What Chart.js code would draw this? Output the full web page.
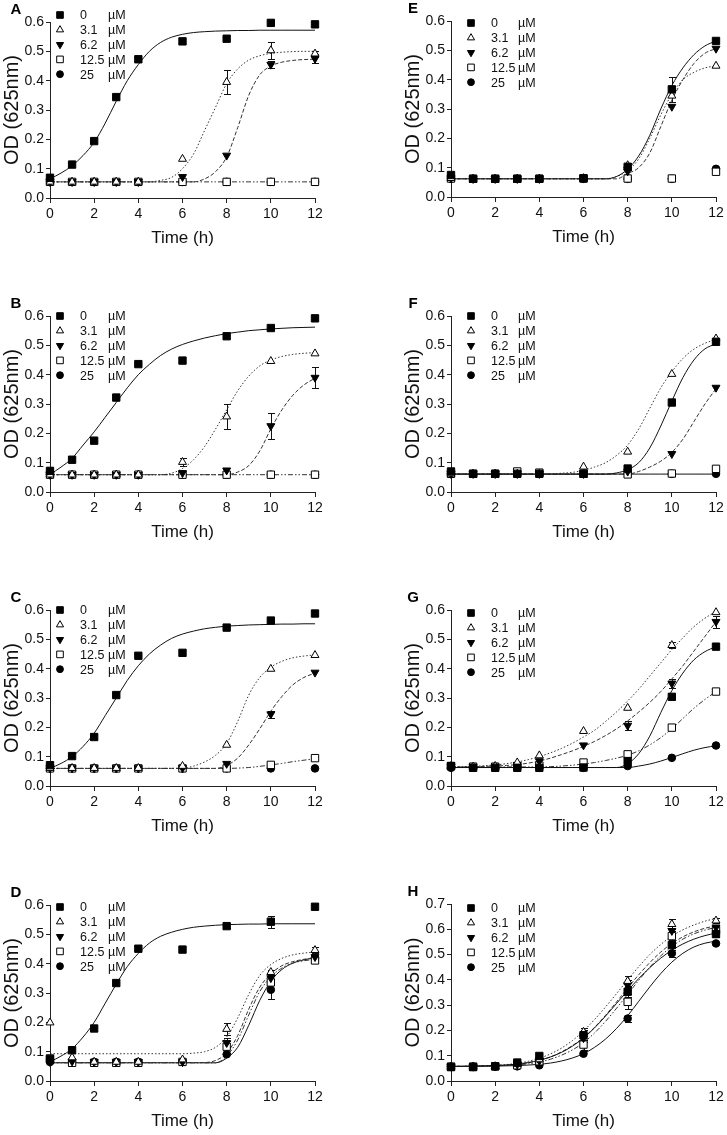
<!DOCTYPE html>
<html>
<head>
<meta charset="utf-8">
<script src="https://cdn.jsdelivr.net/npm/chart.js@4.4.1/dist/chart.umd.min.js"></script>
<style>
  html, body { margin: 0; padding: 0; background: #fff; }
  #fig { position: relative; width: 727px; height: 1135px; overflow: hidden; }
  #fig canvas { position: absolute; }
</style>
</head>
<body>
<div id="fig"></div>
<script>
// doses shown in every legend, sampling times (h)
const DOSES = ['0', '3.1', '6.2', '12.5', '25'];
const TIME = [0, 1, 2, 3, 4, 6, 8, 10, 12];
// time grid the fitted curves were read on
const FIT_TIME = [0, 0.5, 1, 1.5, 2, 2.5, 3, 3.5, 4, 4.5, 5, 5.5, 6, 6.5, 7, 7.5, 8, 8.5, 9, 9.5, 10, 10.5, 11, 11.5, 12];

// ---- panel A ----
const OD_A = [
    [0.069, 0.114, 0.194, 0.344, 0.473, 0.534, 0.543, 0.597, 0.592],
    [0.055, 0.055, 0.055, 0.055, 0.055, 0.133, 0.395, 0.503, 0.492],
    [0.055, 0.055, 0.055, 0.055, 0.055, 0.072, 0.145, 0.455, 0.475],
    [0.055, 0.055, 0.055, 0.055, 0.055, 0.055, 0.055, 0.055, 0.055],
    [0.055, 0.055, 0.055, 0.055, 0.055, 0.055, 0.055, 0.055, 0.055]
];
const SD_A = [
    [0, 0, 0, 0, 0.01, 0, 0, 0, 0],
    [0, 0, 0, 0, 0, 0, 0.04, 0.03, 0.01],
    [0, 0, 0, 0, 0, 0, 0, 0.012, 0.015],
    null, null
];
const FIT_A = [
    [0.065, 0.085, 0.11, 0.145, 0.19, 0.255, 0.33, 0.40, 0.455, 0.50, 0.53, 0.548, 0.558, 0.564, 0.567, 0.569, 0.57, 0.571, 0.571, 0.572, 0.572, 0.572, 0.572, 0.572, 0.572],
    [0.055, 0.055, 0.055, 0.055, 0.055, 0.055, 0.055, 0.055, 0.055, 0.055, 0.06, 0.07, 0.10, 0.15, 0.23, 0.31, 0.39, 0.44, 0.47, 0.485, 0.493, 0.497, 0.499, 0.5, 0.5],
    [0.055, 0.055, 0.055, 0.055, 0.055, 0.055, 0.055, 0.055, 0.055, 0.055, 0.055, 0.055, 0.055, 0.055, 0.065, 0.09, 0.14, 0.24, 0.35, 0.42, 0.45, 0.463, 0.469, 0.472, 0.473],
    [0.055, 0.055, 0.055, 0.055, 0.055, 0.055, 0.055, 0.055, 0.055, 0.055, 0.055, 0.055, 0.055, 0.055, 0.055, 0.055, 0.055, 0.055, 0.055, 0.055, 0.055, 0.055, 0.055, 0.055, 0.055],
    null
];

// ---- panel B ----
const OD_B = [
    [0.072, 0.11, 0.175, 0.322, 0.436, 0.448, 0.531, 0.559, 0.592],
    [0.059, 0.059, 0.059, 0.059, 0.059, 0.102, 0.257, 0.446, 0.472],
    [0.059, 0.059, 0.059, 0.059, 0.059, 0.065, 0.074, 0.225, 0.39],
    [0.059, 0.059, 0.059, 0.059, 0.059, 0.059, 0.059, 0.059, 0.059],
    [0.059, 0.059, 0.059, 0.059, 0.059, 0.059, 0.059, 0.059, 0.059]
];
const SD_B = [
    null,
    [0, 0, 0, 0, 0, 0.013, 0.043, 0, 0],
    [0, 0, 0, 0, 0, 0, 0, 0.045, 0.037],
    null, null
];
const FIT_B = [
    [0.06, 0.085, 0.115, 0.16, 0.205, 0.255, 0.305, 0.355, 0.40, 0.435, 0.465, 0.487, 0.503, 0.515, 0.525, 0.533, 0.54, 0.545, 0.55, 0.553, 0.556, 0.558, 0.56, 0.561, 0.562],
    [0.059, 0.059, 0.059, 0.059, 0.059, 0.059, 0.059, 0.059, 0.059, 0.059, 0.059, 0.064, 0.08, 0.11, 0.155, 0.215, 0.28, 0.345, 0.395, 0.43, 0.45, 0.462, 0.469, 0.473, 0.475],
    [0.059, 0.059, 0.059, 0.059, 0.059, 0.059, 0.059, 0.059, 0.059, 0.059, 0.059, 0.059, 0.059, 0.059, 0.059, 0.059, 0.059, 0.068, 0.09, 0.14, 0.215, 0.28, 0.33, 0.365, 0.388],
    [0.059, 0.059, 0.059, 0.059, 0.059, 0.059, 0.059, 0.059, 0.059, 0.059, 0.059, 0.059, 0.059, 0.059, 0.059, 0.059, 0.059, 0.059, 0.059, 0.059, 0.059, 0.059, 0.059, 0.059, 0.059],
    null
];

// ---- panel C ----
const OD_C = [
    [0.071, 0.102, 0.167, 0.31, 0.444, 0.454, 0.54, 0.564, 0.588],
    [0.061, 0.061, 0.061, 0.061, 0.061, 0.068, 0.14, 0.399, 0.446],
    [0.061, 0.061, 0.061, 0.061, 0.061, 0.061, 0.076, 0.245, 0.387],
    [0.06, 0.06, 0.06, 0.06, 0.06, 0.06, 0.06, 0.072, 0.095],
    [0.06, 0.06, 0.06, 0.06, 0.06, 0.06, 0.06, 0.06, 0.06]
];
const SD_C = [
    null, null,
    [0, 0, 0, 0, 0, 0, 0, 0.012, 0],
    null, null
];
const FIT_C = [
    [0.06, 0.077, 0.1, 0.135, 0.18, 0.24, 0.30, 0.36, 0.41, 0.45, 0.48, 0.503, 0.518, 0.528, 0.536, 0.541, 0.545, 0.547, 0.549, 0.55, 0.551, 0.552, 0.552, 0.553, 0.553],
    [0.06, 0.06, 0.06, 0.06, 0.06, 0.06, 0.06, 0.06, 0.06, 0.06, 0.06, 0.06, 0.06, 0.068, 0.082, 0.105, 0.145, 0.22, 0.31, 0.37, 0.405, 0.425, 0.437, 0.443, 0.447],
    [0.06, 0.06, 0.06, 0.06, 0.06, 0.06, 0.06, 0.06, 0.06, 0.06, 0.06, 0.06, 0.06, 0.06, 0.06, 0.06, 0.07, 0.095, 0.14, 0.195, 0.255, 0.305, 0.345, 0.37, 0.385],
    [0.06, 0.06, 0.06, 0.06, 0.06, 0.06, 0.06, 0.06, 0.06, 0.06, 0.06, 0.06, 0.06, 0.06, 0.06, 0.06, 0.06, 0.061, 0.063, 0.067, 0.072, 0.077, 0.083, 0.088, 0.093],
    null
];

// ---- panel D ----
const OD_D = [
    [0.074, 0.105, 0.179, 0.334, 0.451, 0.448, 0.528, 0.543, 0.594],
    [0.199, 0.08, 0.065, 0.065, 0.065, 0.073, 0.177, 0.371, 0.446],
    [0.065, 0.067, 0.065, 0.065, 0.065, 0.065, 0.13, 0.351, 0.423],
    [0.077, 0.062, 0.062, 0.062, 0.062, 0.065, 0.117, 0.336, 0.411],
    [0.065, 0.065, 0.065, 0.065, 0.065, 0.065, 0.091, 0.311, 0.419]
];
const SD_D = [
    [0, 0, 0, 0, 0, 0, 0.008, 0.02, 0],
    [0, 0, 0, 0, 0, 0, 0.02, 0.008, 0.01],
    [0, 0, 0, 0, 0, 0, 0.015, 0, 0],
    [0, 0, 0, 0, 0, 0, 0.02, 0, 0],
    [0, 0, 0, 0, 0, 0, 0, 0.03, 0]
];
const FIT_D = [
    [0.065, 0.085, 0.11, 0.15, 0.2, 0.265, 0.33, 0.39, 0.435, 0.47, 0.493, 0.507, 0.517, 0.524, 0.528, 0.531, 0.533, 0.534, 0.535, 0.535, 0.536, 0.536, 0.536, 0.536, 0.536],
    [0.093, 0.093, 0.093, 0.093, 0.093, 0.093, 0.093, 0.093, 0.093, 0.093, 0.093, 0.093, 0.093, 0.095, 0.1, 0.115, 0.15, 0.215, 0.295, 0.36, 0.397, 0.418, 0.43, 0.436, 0.44],
    [0.063, 0.063, 0.063, 0.063, 0.063, 0.063, 0.063, 0.063, 0.063, 0.063, 0.063, 0.063, 0.063, 0.063, 0.063, 0.07, 0.095, 0.155, 0.245, 0.32, 0.365, 0.393, 0.407, 0.415, 0.42],
    [0.062, 0.062, 0.062, 0.062, 0.062, 0.062, 0.062, 0.062, 0.062, 0.062, 0.062, 0.062, 0.062, 0.062, 0.062, 0.062, 0.085, 0.14, 0.225, 0.305, 0.355, 0.385, 0.402, 0.41, 0.415],
    [0.062, 0.062, 0.062, 0.062, 0.062, 0.062, 0.062, 0.062, 0.062, 0.062, 0.062, 0.062, 0.062, 0.062, 0.062, 0.062, 0.078, 0.115, 0.19, 0.275, 0.34, 0.38, 0.402, 0.413, 0.42]
];

// ---- panel E ----
const OD_E = [
    [0.075, 0.062, 0.062, 0.062, 0.062, 0.064, 0.103, 0.367, 0.532],
    [0.064, 0.062, 0.062, 0.062, 0.062, 0.064, 0.108, 0.345, 0.447],
    [0.064, 0.062, 0.062, 0.062, 0.062, 0.064, 0.088, 0.308, 0.506],
    [0.063, 0.062, 0.062, 0.062, 0.062, 0.063, 0.063, 0.063, 0.086],
    [0.062, 0.062, 0.062, 0.062, 0.062, 0.062, 0.062, 0.062, 0.096]
];
const SD_E = [
    [0, 0, 0, 0, 0, 0, 0.012, 0.042, 0],
    [0, 0, 0, 0, 0, 0, 0, 0.02, 0],
    null, null, null
];
const FIT_E = [
    [0.062, 0.062, 0.062, 0.062, 0.062, 0.062, 0.062, 0.062, 0.062, 0.062, 0.062, 0.062, 0.062, 0.062, 0.062, 0.07, 0.095, 0.14, 0.21, 0.3, 0.38, 0.44, 0.485, 0.515, 0.532],
    [0.062, 0.062, 0.062, 0.062, 0.062, 0.062, 0.062, 0.062, 0.062, 0.062, 0.062, 0.062, 0.062, 0.062, 0.062, 0.07, 0.09, 0.13, 0.2, 0.28, 0.35, 0.4, 0.425, 0.44, 0.447],
    [0.062, 0.062, 0.062, 0.062, 0.062, 0.062, 0.062, 0.062, 0.062, 0.062, 0.062, 0.062, 0.062, 0.062, 0.062, 0.062, 0.08, 0.1, 0.15, 0.24, 0.33, 0.4, 0.455, 0.49, 0.506],
    null, null
];

// ---- panel F ----
const OD_F = [
    [0.07, 0.062, 0.062, 0.062, 0.062, 0.062, 0.08, 0.305, 0.512],
    [0.062, 0.062, 0.062, 0.062, 0.062, 0.086, 0.137, 0.402, 0.523],
    [0.062, 0.062, 0.062, 0.062, 0.062, 0.062, 0.07, 0.13, 0.356],
    [0.062, 0.062, 0.062, 0.07, 0.066, 0.062, 0.06, 0.063, 0.079],
    [0.062, 0.062, 0.062, 0.062, 0.062, 0.062, 0.062, 0.062, 0.062]
];
const SD_F = [null, null, null, null, null];
const FIT_F = [
    [0.061, 0.061, 0.061, 0.061, 0.061, 0.061, 0.061, 0.061, 0.061, 0.061, 0.061, 0.061, 0.061, 0.061, 0.061, 0.065, 0.076, 0.1, 0.15, 0.225, 0.31, 0.39, 0.45, 0.488, 0.505],
    [0.062, 0.062, 0.062, 0.062, 0.062, 0.062, 0.062, 0.062, 0.062, 0.062, 0.064, 0.067, 0.074, 0.085, 0.1, 0.125, 0.16, 0.215, 0.285, 0.355, 0.41, 0.455, 0.487, 0.507, 0.52],
    [0.061, 0.061, 0.061, 0.061, 0.061, 0.061, 0.061, 0.061, 0.061, 0.061, 0.061, 0.061, 0.061, 0.061, 0.061, 0.061, 0.061, 0.07, 0.085, 0.105, 0.135, 0.18, 0.24, 0.3, 0.352],
    null,
    [0.061, 0.061, 0.061, 0.061, 0.061, 0.061, 0.061, 0.061, 0.061, 0.061, 0.061, 0.061, 0.061, 0.061, 0.061, 0.061, 0.061, 0.061, 0.061, 0.061, 0.061, 0.061, 0.061, 0.061, 0.061]
];

// ---- panel G ----
const OD_G = [
    [0.068, 0.062, 0.062, 0.062, 0.062, 0.063, 0.085, 0.304, 0.475],
    [0.068, 0.066, 0.068, 0.08, 0.104, 0.187, 0.266, 0.48, 0.592],
    [0.066, 0.065, 0.066, 0.072, 0.085, 0.139, 0.206, 0.35, 0.56],
    [0.068, 0.066, 0.066, 0.068, 0.07, 0.08, 0.108, 0.199, 0.322],
    [0.062, 0.062, 0.062, 0.062, 0.062, 0.062, 0.068, 0.096, 0.138]
];
const SD_G = [
    null,
    [0, 0, 0, 0, 0, 0, 0, 0.01, 0],
    [0, 0, 0, 0, 0, 0, 0.015, 0.015, 0.02],
    null, null
];
const FIT_G = [
    [0.063, 0.063, 0.063, 0.063, 0.063, 0.063, 0.063, 0.063, 0.063, 0.063, 0.063, 0.063, 0.063, 0.063, 0.063, 0.063, 0.076, 0.11, 0.17, 0.25, 0.325, 0.385, 0.43, 0.458, 0.475],
    [0.065, 0.066, 0.067, 0.069, 0.072, 0.076, 0.082, 0.09, 0.1, 0.113, 0.128, 0.146, 0.167, 0.19, 0.22, 0.253, 0.29, 0.33, 0.375, 0.42, 0.465, 0.505, 0.543, 0.572, 0.595],
    [0.065, 0.065, 0.066, 0.067, 0.068, 0.07, 0.073, 0.078, 0.085, 0.095, 0.107, 0.12, 0.135, 0.152, 0.172, 0.195, 0.222, 0.252, 0.285, 0.322, 0.365, 0.41, 0.46, 0.51, 0.56],
    [0.065, 0.065, 0.065, 0.065, 0.065, 0.065, 0.065, 0.065, 0.065, 0.066, 0.068, 0.071, 0.075, 0.08, 0.087, 0.095, 0.105, 0.12, 0.14, 0.165, 0.195, 0.23, 0.265, 0.295, 0.322],
    [0.063, 0.063, 0.063, 0.063, 0.063, 0.063, 0.063, 0.063, 0.063, 0.063, 0.063, 0.063, 0.063, 0.063, 0.063, 0.063, 0.063, 0.068, 0.075, 0.085, 0.097, 0.11, 0.122, 0.131, 0.137]
];

// ---- panel H ----
const OD_H = [
    [0.055, 0.055, 0.058, 0.073, 0.099, 0.181, 0.353, 0.538, 0.581],
    [0.057, 0.057, 0.058, 0.068, 0.085, 0.194, 0.395, 0.62, 0.634],
    [0.057, 0.057, 0.058, 0.066, 0.08, 0.17, 0.379, 0.594, 0.608],
    [0.057, 0.057, 0.058, 0.062, 0.078, 0.144, 0.313, 0.573, 0.597],
    [0.057, 0.057, 0.057, 0.058, 0.062, 0.108, 0.247, 0.505, 0.544]
];
const SD_H = [
    [0, 0, 0, 0, 0, 0.02, 0.02, 0.02, 0.01],
    [0, 0, 0, 0, 0, 0.015, 0.02, 0.02, 0.01],
    [0, 0, 0, 0, 0, 0.015, 0.02, 0.02, 0],
    [0, 0, 0, 0, 0, 0.02, 0.03, 0.02, 0],
    [0, 0, 0, 0, 0, 0, 0.015, 0.015, 0]
];
const FIT_H = [
    [0.058, 0.058, 0.059, 0.06, 0.061, 0.063, 0.067, 0.073, 0.082, 0.095, 0.113, 0.138, 0.17, 0.21, 0.257, 0.307, 0.357, 0.405, 0.448, 0.486, 0.517, 0.542, 0.561, 0.575, 0.585],
    [0.058, 0.058, 0.059, 0.06, 0.062, 0.065, 0.07, 0.078, 0.09, 0.107, 0.13, 0.16, 0.198, 0.243, 0.293, 0.346, 0.4, 0.452, 0.5, 0.54, 0.573, 0.598, 0.617, 0.632, 0.643],
    [0.058, 0.058, 0.059, 0.06, 0.061, 0.063, 0.066, 0.072, 0.081, 0.095, 0.115, 0.14, 0.172, 0.212, 0.26, 0.313, 0.368, 0.42, 0.468, 0.51, 0.544, 0.57, 0.59, 0.604, 0.614],
    [0.058, 0.058, 0.058, 0.059, 0.06, 0.062, 0.064, 0.068, 0.075, 0.086, 0.102, 0.123, 0.152, 0.19, 0.236, 0.288, 0.343, 0.398, 0.45, 0.495, 0.532, 0.561, 0.582, 0.597, 0.607],
    [0.058, 0.058, 0.058, 0.058, 0.059, 0.06, 0.061, 0.063, 0.066, 0.071, 0.079, 0.091, 0.108, 0.133, 0.166, 0.208, 0.258, 0.315, 0.372, 0.425, 0.47, 0.505, 0.53, 0.545, 0.553]
];

// marker and line style per dose
const MARKERS = [
    { style: 'rect', rot: 0, r: 5.2, fill: '#000' },
    { style: 'triangle', rot: 0, r: 4.6, fill: '#fff' },
    { style: 'triangle', rot: 180, r: 4.6, fill: '#000' },
    { style: 'rect', rot: 0, r: 5.2, fill: '#fff' },
    { style: 'circle', rot: 0, r: 3.8, fill: '#000' }
];
const DASHES = [[], [1.5, 2], [4, 2], [5, 2, 1.5, 2, 1.5, 2], []];

const FONT = "'Liberation Sans', Arial, Helvetica, sans-serif";
Chart.defaults.font.family = FONT;
Chart.defaults.color = '#111';

// page layout: left/right column, top of plot area
const PANELS = [
    { id: 'A', od: OD_A, sd: SD_A, fit: FIT_A, yMax: 0.6, col: 0, top: 22, legendDy: -7 },
    { id: 'B', od: OD_B, sd: SD_B, fit: FIT_B, yMax: 0.6, col: 0, top: 316, legendDy: 0 },
    { id: 'C', od: OD_C, sd: SD_C, fit: FIT_C, yMax: 0.6, col: 0, top: 610, legendDy: 0 },
    { id: 'D', od: OD_D, sd: SD_D, fit: FIT_D, yMax: 0.6, col: 0, top: 905, legendDy: 2 },
    { id: 'E', od: OD_E, sd: SD_E, fit: FIT_E, yMax: 0.6, col: 1, top: 21, legendDy: 2 },
    { id: 'F', od: OD_F, sd: SD_F, fit: FIT_F, yMax: 0.6, col: 1, top: 316, legendDy: 0 },
    { id: 'G', od: OD_G, sd: SD_G, fit: FIT_G, yMax: 0.6, col: 1, top: 610, legendDy: 3 },
    { id: 'H', od: OD_H, sd: SD_H, fit: FIT_H, yMax: 0.7, col: 1, top: 904, legendDy: 4 }
];
const COLS = [
    { left: 0, width: 330, letterX: -34, markX: 10, numX: 30, unitX: 58 },
    { left: 401, width: 326, letterX: -38, markX: 20, numX: 40, unitX: 67 }
];

// SD bars with caps, drawn under the markers
const errorBars = {
    id: 'errorBars',
    beforeDatasetsDraw(chart) {
        const ctx = chart.ctx, xs = chart.scales.x, ys = chart.scales.y;
        ctx.save();
        ctx.strokeStyle = '#111';
        ctx.lineWidth = 1;
        chart.data.datasets.forEach(ds => {
            if (!ds.sd) return;
            ds.data.forEach((p, i) => {
                const e = ds.sd[i];
                if (!e) return;
                const x = Math.round(xs.getPixelForValue(p.x)) + 0.5;
                const y1 = Math.round(ys.getPixelForValue(p.y + e)) + 0.5;
                const y2 = Math.round(ys.getPixelForValue(p.y - e)) + 0.5;
                ctx.beginPath();
                ctx.moveTo(x, y1); ctx.lineTo(x, y2);
                ctx.moveTo(x - 3.5, y1); ctx.lineTo(x + 3.5, y1);
                ctx.moveTo(x - 3.5, y2); ctx.lineTo(x + 3.5, y2);
                ctx.stroke();
            });
        });
        ctx.restore();
    }
};

// panel letter and the in-plot legend
const panelDecor = {
    id: 'panelDecor',
    afterDraw(chart, args, opts) {
        const ctx = chart.ctx, a = chart.chartArea;
        ctx.save();
        ctx.fillStyle = '#000';
        ctx.font = 'bold 15px ' + FONT;
        ctx.textAlign = 'center';
        ctx.textBaseline = 'middle';
        ctx.fillText(opts.letter, a.left + opts.letterX, a.top - 12);

        ctx.font = '12.5px ' + FONT;
        ctx.textAlign = 'left';
        DOSES.forEach((d, i) => {
            const y = a.top + opts.legendDy + i * 14.8;
            const m = MARKERS[i];
            ctx.fillStyle = m.fill;
            ctx.strokeStyle = '#000';
            ctx.lineWidth = 1;
            Chart.helpers.drawPoint(ctx, { pointStyle: m.style, rotation: m.rot, radius: m.r * 0.9, borderWidth: 1 }, a.left + opts.markX, y);
            ctx.fillStyle = '#111';
            ctx.fillText(d, a.left + opts.numX, y + 1);
            ctx.fillText('\u00b5M', a.left + opts.unitX, y + 1);
        });
        ctx.restore();
    }
};

function buildPanel(p) {
    const col = COLS[p.col];
    const plotH = p.yMax > 0.65 ? 177 : 176;
    const padTop = 22;
    const canvas = document.createElement('canvas');
    canvas.width = col.width;
    canvas.height = padTop + plotH + 51;
    canvas.style.left = col.left + 'px';
    canvas.style.top = (p.top - padTop) + 'px';
    document.getElementById('fig').appendChild(canvas);

    const datasets = [];
    p.fit.forEach((f, i) => {
        if (!f) return;
        datasets.push({
            data: FIT_TIME.map((t, k) => ({ x: t, y: f[k] })),
            showLine: true, pointRadius: 0, borderWidth: 1,
            borderColor: i === 0 || i === 4 ? '#111' : '#333',
            borderDash: DASHES[i],
            cubicInterpolationMode: 'monotone',
            order: 20 + i
        });
    });
    p.od.forEach((row, i) => {
        const m = MARKERS[i];
        datasets.push({
            label: DOSES[i] + ' \u00b5M',
            data: TIME.map((t, k) => ({ x: t, y: row[k] })),
            sd: p.sd[i],
            showLine: false,
            pointStyle: m.style, pointRotation: m.rot, pointRadius: m.r,
            pointBackgroundColor: m.fill, pointBorderColor: '#000', pointBorderWidth: 1,
            clip: false,
            order: i
        });
    });

    new Chart(canvas, {
        type: 'scatter',
        data: { datasets: datasets },
        plugins: [errorBars, panelDecor],
        options: {
            responsive: false,
            animation: false,
            events: [],
            layout: { padding: { top: padTop, right: col.width - 315, bottom: 0, left: 0 } },
            plugins: {
                legend: { display: false },
                tooltip: { enabled: false },
                panelDecor: { letter: p.id, letterX: col.letterX, markX: col.markX, numX: col.numX, unitX: col.unitX, legendDy: p.legendDy }
            },
            scales: {
                x: {
                    type: 'linear', min: 0, max: 12,
                    ticks: { stepSize: 2, color: '#111', font: { size: 14 }, padding: 3, maxRotation: 0, autoSkip: false },
                    grid: { display: true, drawOnChartArea: false, drawTicks: true, tickLength: 5, color: '#222' },
                    border: { display: true, color: '#222', width: 1 },
                    title: { display: true, text: 'Time (h)', color: '#111', font: { size: 17 }, padding: { top: 0, bottom: 0 } },
                    afterFit: s => { s.height = 51; }
                },
                y: {
                    type: 'linear', min: 0, max: p.yMax,
                    ticks: { stepSize: 0.1, color: '#111', font: { size: 14 }, padding: 2, callback: v => v.toFixed(1) },
                    grid: { display: true, drawOnChartArea: false, drawTicks: true, tickLength: 4, color: '#222' },
                    border: { display: true, color: '#222', width: 1 },
                    title: { display: true, text: 'OD (625nm)', color: '#111', font: { size: 20 }, padding: { top: 0, bottom: 0 } },
                    afterFit: s => { s.width = 50; }
                }
            }
        }
    });
}

PANELS.forEach(buildPanel);
</script>
</body>
</html>
